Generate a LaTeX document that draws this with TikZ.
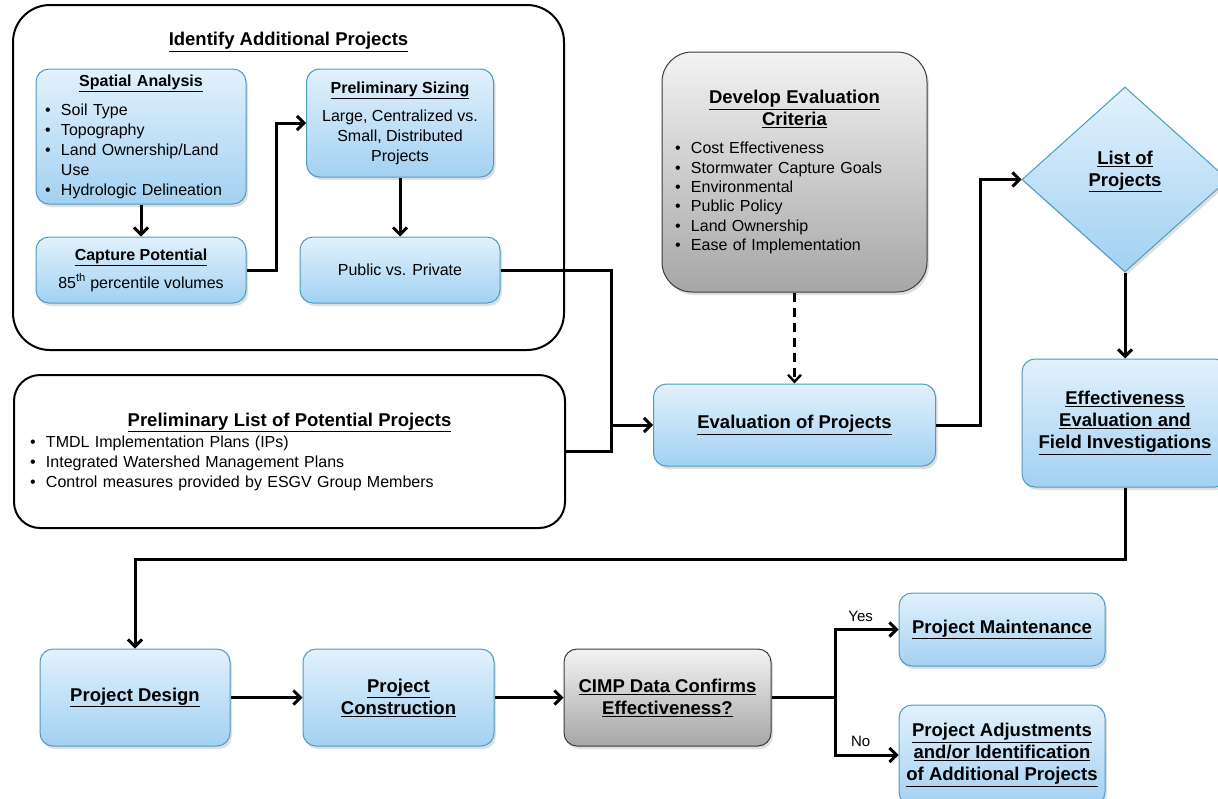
\documentclass[tikz,border=0pt]{standalone}
\usepackage{fontspec}
\setmainfont{Liberation Sans}
\usetikzlibrary{shapes.geometric, arrows.meta, shadows}
\definecolor{boxtop}{HTML}{E2F1FC}
\definecolor{boxbot}{HTML}{A2D1F2}
\definecolor{boxline}{HTML}{4E9BBF}
\definecolor{greytop}{HTML}{F3F3F3}
\definecolor{greybot}{HTML}{A6A6A6}
\definecolor{greyline}{HTML}{3C3C3C}
\newcommand{\bodyf}{\fontsize{16}{20}\selectfont}
\newcommand{\headf}{\fontsize{18.5}{22}\selectfont\bfseries}
\newcommand{\subf}{\fontsize{16}{20}\selectfont\bfseries}
\newcommand{\smallf}{\fontsize{15}{18}\selectfont}
\newcommand{\bul}[1]{\makebox[16pt][l]{\textbullet}#1}
\tikzstyle{groupbox} = [rectangle, rounded corners=37pt, draw=black, line width=2pt]
\tikzstyle{bluebox} = [rectangle, rounded corners=13pt, draw=boxline, line width=1pt, top color=boxtop, bottom color=boxbot, drop shadow={opacity=0.25, shadow xshift=2pt, shadow yshift=-3pt}, font=\bodyf, align=center]
\tikzstyle{greybox} = [bluebox, draw=greyline, top color=greytop, bottom color=greybot]
\tikzstyle{decision} = [diamond, minimum width=206pt, minimum height=185pt, inner sep=0pt, draw=boxline, line width=1pt, top color=boxtop, bottom color=boxbot, drop shadow={opacity=0.25, shadow xshift=2pt, shadow yshift=-3pt}]
\tikzstyle{conn} = [line width=3pt]
\tikzstyle{arrow} = [conn, -{Straight Barb[length=7pt,width=14pt]}]
\tikzstyle{dasharrow} = [line width=2.4pt, dash pattern=on 9pt off 6pt, -{Straight Barb[length=7pt,width=13pt]}]
\begin{document}
\begin{tikzpicture}[x=1pt, y=-1pt, node distance=100pt]
\useasboundingbox (0,0) rectangle (1218,798);

% identify additional projects
\node (ident) [groupbox, minimum width=551pt, minimum height=345pt] at (288.5,177.5) {};
\node (identt) [font=\headf] at (288.5,42) {\underline{Identify Additional Projects}};
\node (spat) [bluebox, align=left, text width=192pt, inner xsep=9pt, minimum height=135pt] at (141,136.5) {{\centering\subf\underline{Spatial Analysis}\par}\vspace{9pt}\bul{Soil Type}\\\bul{Topography}\\\bul{Land Ownership/Land}\\\hspace*{16pt}Use\\\bul{Hydrologic Delineation}};
\node (capt) [bluebox, node distance=133.5pt, below of=spat, minimum width=210pt, minimum height=66pt] {{\subf\underline{Capture Potential}}\\[8pt]85\textsuperscript{th} percentile volumes};
\node (size) [bluebox, minimum width=187pt, minimum height=108pt] at (400,123) {{\subf\underline{Preliminary Sizing}}\\[8pt]Large, Centralized vs.\\Small, Distributed\\Projects};
\node (pubpriv) [bluebox, node distance=147pt, below of=size, minimum width=200pt, minimum height=66pt] {Public vs. Private};

% preliminary list
\node (plist) [groupbox, rounded corners=26pt, align=left, text width=519pt, inner xsep=16pt, minimum height=153pt, font=\bodyf] at (289.5,451.5) {{\centering\headf\underline{Preliminary List of Potential Projects}\par}\vspace{1pt}\bul{TMDL Implementation Plans (IPs)}\\\bul{Integrated Watershed Management Plans}\\\bul{Control measures provided by ESGV Group Members}};

% evaluation
\node (crit) [greybox, rounded corners=30pt, align=left, text width=239pt, inner xsep=13pt, minimum height=240pt, font=\fontsize{16}{19.3}\selectfont] at (794.5,172) {{\centering\headf\underline{Develop Evaluation}\\\underline{Criteria}\par}\vspace{9pt}\bul{Cost Effectiveness}\\\bul{Stormwater Capture Goals}\\\bul{Environmental}\\\bul{Public Policy}\\\bul{Land Ownership}\\\bul{Ease of Implementation}};
\node (evalp) [bluebox, node distance=253pt, below of=crit, minimum width=282pt, minimum height=82pt, font=\headf] {\underline{Evaluation of Projects}};
\node (listp) [decision, label={[font=\headf, align=center, yshift=8pt]center:{\underline{List of}\\\underline{Projects}}}] at (1125,179.5) {};
\node (effe) [bluebox, node distance=243.5pt, below of=listp, minimum width=206pt, minimum height=128pt, font=\headf] {\underline{Effectiveness}\\\underline{Evaluation and}\\\underline{Field Investigations}};

% bottom row
\node (desn) [bluebox, minimum width=190pt, minimum height=97pt, font=\headf] at (135,697.5) {\underline{Project Design}};
\node (cons) [bluebox, node distance=263.5pt, right of=desn, minimum width=191pt, minimum height=97pt, font=\headf] {\underline{Project}\\\underline{Construction}};
\node (cimp) [greybox, node distance=269pt, right of=cons, minimum width=207pt, minimum height=97pt, font=\headf] {\underline{CIMP Data Confirms}\\\underline{Effectiveness?}};
\node (maint) [bluebox, minimum width=206pt, minimum height=73pt, font=\headf] at (1002,629.5) {\underline{Project Maintenance}};
\node (adjs) [bluebox, node distance=125.5pt, below of=maint, minimum width=206pt, minimum height=100pt, font=\headf] {\underline{Project Adjustments}\\\underline{and/or Identification}\\\underline{of Additional Projects}};

\draw [arrow] (spat) -- (capt);
\draw [arrow] (capt.east) -- ++(30,0) |- (size.west);
\draw [arrow] (size) -- (pubpriv);
\coordinate (jn) at (611,425);
\draw [conn] (pubpriv.east) -| (jn |- plist.east) -- (plist.east);
\draw [arrow] (jn) -- (evalp.west);
\draw [dasharrow] (crit) -- (evalp);
\draw [arrow] (evalp.east) -- ++(44,0) |- (listp.west);
\draw [arrow] (listp) -- (effe);
\draw [arrow] (effe.south) -- ++(0,72) -| (desn.north);
\draw [arrow] (desn) -- (cons);
\draw [arrow] (cons) -- (cimp);
\draw [conn] (cimp.east) -- ++(64,0) coordinate (sp);
\draw [arrow] (sp) |- node[pos=0.7, above=3pt, font=\smallf] {Yes} (maint.west);
\draw [arrow] (sp) |- node[pos=0.7, above=4pt, font=\smallf] {No} (adjs.west);

\end{tikzpicture}
\end{document}
